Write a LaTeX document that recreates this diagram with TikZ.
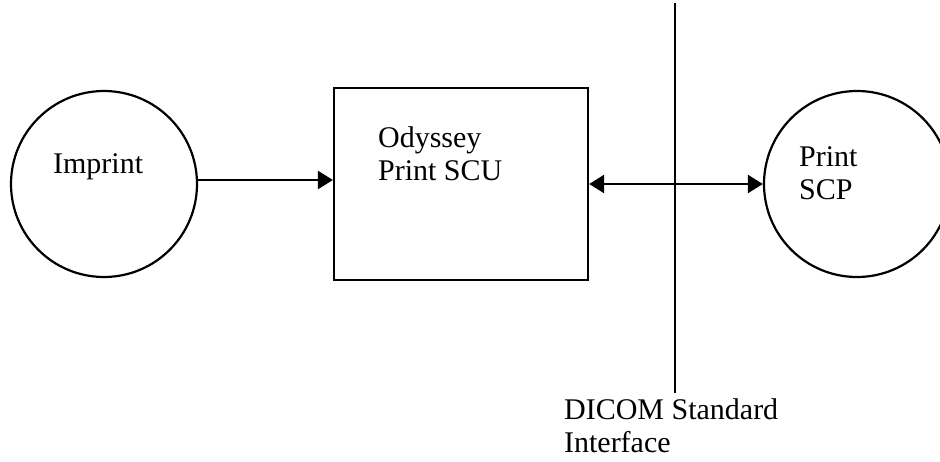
\documentclass[tikz,border=0pt]{standalone}
\usepackage{fontspec}
\setmainfont{Liberation Serif}
\usetikzlibrary{arrows.meta}
\tikzset{
    unit/.style={draw, circle, minimum size=186pt, inner sep=0pt}, % round parties
    block/.style={draw, rectangle, minimum width=254pt, minimum height=192pt, inner sep=0pt},
    lbl/.style={anchor=base west, align=left, inner sep=0pt, font=\fontsize{30}{33}\selectfont},
    oneway/.style={-{Triangle[length=15pt, width=18pt]}},
    twoway/.style={{Triangle[length=15pt, width=18pt]}-{Triangle[length=15pt, width=18pt]}}
}

\begin{document}
\begin{tikzpicture}[x=1pt, y=-1pt, line width=2.2pt]
            \useasboundingbox (0,0) rectangle (940,461);
            \clip (0,0) rectangle (940,461);

            \node[unit] (imprint) at (104,184) {};
            \node[block] (scu) at (461,184) {};
            \node[unit] (scp) at (857,184) {};

            % base anchor sits on the last line
            \node[lbl] (imprintlbl) at (52,173) {Imprint};
            \node[lbl] (sculbl) at (377,180) {Odyssey\\Print SCU};
            \node[lbl] (scplbl) at (798,199) {Print\\SCP};
            \node[lbl] (dicomlbl) at (563,452) {DICOM Standard\\Interface};

            \coordinate (ifacetop) at (675,3);
            \coordinate (ifacebot) at (675,393);
            \draw (ifacetop) -- (ifacebot);

            \draw[oneway] ([yshift=4pt]imprint.east) -- ([yshift=4pt]imprint.east -| scu.west);
            \draw[twoway] (scu.east) -- (scp.west);
        \end{tikzpicture}
\end{document}
